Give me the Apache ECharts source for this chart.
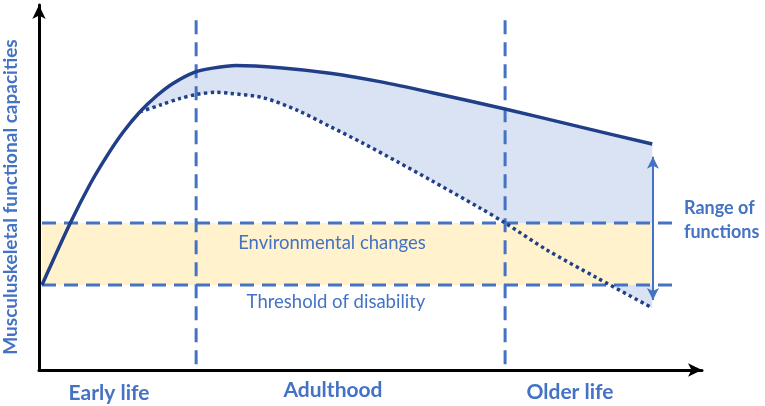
<!DOCTYPE html>
<html>
<head>
<meta charset="utf-8">
<script src="https://cdn.jsdelivr.net/npm/echarts@6/dist/echarts.min.js"></script>
<style>
  html, body { margin: 0; background: #fff; }
  #main { width: 765px; height: 406px; }
</style>
</head>
<body>
<div id="main"></div>
<script>
// capacity over life course (x: life stage 0-100, y: capacity 0-100)
var solidCurve = [
    [0.45, 23.3], [4.7, 40.2], [7.7, 50.9], [10.3, 58.8], [12.7, 65.2],
    [15.2, 70.7], [17.8, 75.2], [20.2, 78.5], [23.5, 81.6], [26.2, 82.7],
    [29.7, 83.4], [36.3, 82.8], [43.9, 81.3], [51.4, 79.0], [59.0, 76.1],
    [70.3, 71.5], [81.6, 66.6], [92.5, 61.9]
];
var dottedCurve = [
    [15.2, 70.7], [18.3, 72.6], [21.3, 74.4], [23.8, 75.5], [26.8, 76.1],
    [28.8, 75.8], [33.8, 74.6], [38.9, 71.2], [43.9, 66.7], [48.9, 62.1],
    [54.0, 57.1], [59.0, 52.1], [66.5, 44.4], [70.3, 40.3], [76.6, 32.9],
    [84.2, 25.2], [92.5, 17.0]
];
var thresholdLevels = [23.3, 40.3];   // threshold of disability, environmental changes
var stageBounds = [23.7, 70.3];
var bandRange = [0.45, 92.5];
var dashRange = [0.45, 95.9];
var stageSpan = [1.6, 97.5];
var rangeArrow = [92.6, 19.2, 58.4];  // x, bottom, top
var stageLabels = ['Early life', 'Adulthood', 'Older life'];

var blue = '#4472c4';
var navy = '#213f88';
var font = 'Lato, "Open Sans", sans-serif';

var dom = document.getElementById('main');
var myChart = echarts.init(dom, null, { renderer: 'canvas' });

function dashLine(pts) {
    return {
        type: 'line',
        data: pts,
        symbol: 'none',
        silent: true,
        z: 3,
        lineStyle: { color: blue, width: 3, type: [14, 8] }
    };
}

var series = [
    {
        // gap between potential and actual capacity
        type: 'custom',
        z: 1,
        silent: true,
        data: [0],
        renderItem: function (params, api) {
            var pts = [];
            solidCurve.forEach(function (p) {
                if (p[0] >= dottedCurve[0][0]) pts.push(api.coord(p));
            });
            dottedCurve.slice().reverse().forEach(function (p) {
                pts.push(api.coord(p));
            });
            return { type: 'polygon', shape: { points: pts }, style: { fill: '#dae3f3' } };
        }
    },
    {
        // environmental band
        type: 'custom',
        z: 2,
        silent: true,
        data: [0],
        renderItem: function (params, api) {
            var a = api.coord([bandRange[0], thresholdLevels[1]]);
            var b = api.coord([bandRange[1], thresholdLevels[0]]);
            return {
                type: 'rect',
                shape: { x: a[0], y: a[1], width: b[0] - a[0], height: b[1] - a[1] },
                style: { fill: '#fff2cc' }
            };
        }
    }
];

thresholdLevels.forEach(function (lv) {
    series.push(dashLine([[dashRange[0], lv], [dashRange[1], lv]]));
});
stageBounds.forEach(function (x) {
    series.push(dashLine([[x, stageSpan[0]], [x, stageSpan[1]]]));
});

series.push({
    type: 'line',
    data: solidCurve,
    smooth: 0.3,
    symbol: 'none',
    z: 5,
    lineStyle: { color: navy, width: 3.5 }
});
series.push({
    type: 'line',
    data: dottedCurve,
    smooth: 0.3,
    symbol: 'none',
    z: 5,
    lineStyle: { color: navy, width: 3.5, type: [3.3, 3.4] },
    markLine: {
        silent: true,
        symbol: ['arrow', 'arrow'],
        symbolSize: [9, 12],
        label: { show: false },
        lineStyle: { color: blue, width: 2, type: 'solid' },
        data: [[
            { coord: [rangeArrow[0], rangeArrow[1]] },
            { coord: [rangeArrow[0], rangeArrow[2]] }
        ]]
    }
});

var label = function (txt, x, y, size, weight) {
    return {
        type: 'text',
        x: x,
        y: y,
        z: 100,
        style: {
            text: txt,
            fill: blue,
            font: weight + ' ' + size + 'px ' + font,
            textAlign: 'center',
            textVerticalAlign: 'middle'
        }
    };
};

var option = {
    animation: false,
    grid: { left: 39, right: 63, top: 5, bottom: 36 },
    xAxis: {
        type: 'value',
        min: 0,
        max: 100,
        axisLine: {
            show: true,
            symbol: ['none', 'arrow'],
            symbolSize: [10, 14],
            lineStyle: { color: '#000', width: 3 }
        },
        axisTick: { show: false },
        axisLabel: { show: false },
        splitLine: { show: false }
    },
    yAxis: {
        type: 'value',
        min: 0,
        max: 100,
        axisLine: {
            show: true,
            symbol: ['none', 'arrow'],
            symbolSize: [10, 14],
            lineStyle: { color: '#000', width: 3 }
        },
        axisTick: { show: false },
        axisLabel: { show: false },
        splitLine: { show: false }
    },
    graphic: [
        label(stageLabels[0], 109, 393, 21, 'bold'),
        label(stageLabels[1], 333, 390, 21, 'bold'),
        label(stageLabels[2], 570, 392, 21, 'bold'),
        label('Environmental changes', 332, 243, 18.5, 'normal'),
        label('Threshold of disability', 336, 302, 18.5, 'normal'),
        {
            type: 'text',
            x: 684,
            y: 220,
            z: 100,
            style: {
                text: 'Range of\nfunctions',
                fill: blue,
                font: 'bold 18px ' + font,
                lineHeight: 24,
                textAlign: 'left',
                textVerticalAlign: 'middle'
            }
        },
        {
            type: 'text',
            x: 11,
            y: 197,
            z: 100,
            rotation: Math.PI / 2,
            style: {
                text: 'Musculuskeletal functional capacities',
                fill: blue,
                font: 'bold 19px ' + font,
                textAlign: 'center',
                textVerticalAlign: 'middle'
            }
        }
    ],
    series: series
};

myChart.setOption(option);
window.addEventListener('resize', myChart.resize);
</script>
</body>
</html>
